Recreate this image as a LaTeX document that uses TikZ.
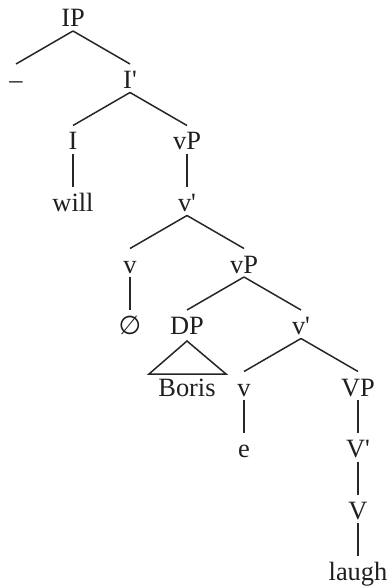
\documentclass[tikz,border=0pt]{standalone}
\usepackage{fontspec}
\setmainfont{Liberation Serif}[Ligatures=TeXOff]
\newfontfamily\symfnt{DejaVu Sans}
\newcommand\treeedge[2]{\draw[edge] ([yshift=-4bp]#1.base) -- ([yshift=24.5bp]#2.base);}
\begin{document}
\begin{tikzpicture}[x=1bp,y=-1bp,
  lab/.style={anchor=base,inner sep=0pt,text=black!88,font=\fontsize{26.5}{31}\selectfont},
  edge/.style={draw=black!85,line width=1.5bp}]
\useasboundingbox (0,0) rectangle (390,586);
% row 0
\node[lab] (IP) at (73,27) {IP};
% row 1
\node[lab] (gap) at (16,88.5) {–};
\node[lab] (Ib) at (130,88.5) {I'};
% row 2
\node[lab] (I) at (73,150) {I};
\node[lab] (vP1) at (187,150) {vP};
% row 3
\node[lab] (will) at (73,211.5) {will};
\node[lab] (vb1) at (187,211.5) {v'};
% row 4
\node[lab] (v1) at (130,273) {v};
\node[lab] (vP2) at (244,273) {vP};
% row 5
\node[lab] (null) at (130,334.5) {{\symfnt\fontsize{26}{30}\selectfont ∅}};
\node[lab] (DP) at (187,334.5) {DP};
\node[lab] (vb2) at (301,334.5) {v'};
% row 6
\node[lab] (Boris) at (187,396) {Boris};
\node[lab] (v2) at (244,396) {v};
\node[lab] (VP) at (358,396) {VP};
% row 7
\node[lab] (e) at (244,457.5) {e};
\node[lab] (Vb) at (358,457.5) {V'};
% row 8
\node[lab] (V) at (358,519) {V};
% row 9
\node[lab] (laugh) at (358,580.5) {laugh};
% edges
\treeedge{IP}{gap}
\treeedge{IP}{Ib}
\treeedge{Ib}{I}
\treeedge{Ib}{vP1}
\treeedge{I}{will}
\treeedge{vP1}{vb1}
\treeedge{vb1}{v1}
\treeedge{vb1}{vP2}
\treeedge{v1}{null}
\treeedge{vP2}{DP}
\treeedge{vP2}{vb2}
\treeedge{vb2}{v2}
\treeedge{vb2}{VP}
\treeedge{v2}{e}
\treeedge{VP}{Vb}
\treeedge{Vb}{V}
\treeedge{V}{laugh}
\draw[edge] ([yshift=-6.5bp]DP.base) -- ([xshift=-38bp,yshift=22bp]Boris.base)
  -- ([xshift=39bp,yshift=22bp]Boris.base) -- cycle;
\end{tikzpicture}
\end{document}
